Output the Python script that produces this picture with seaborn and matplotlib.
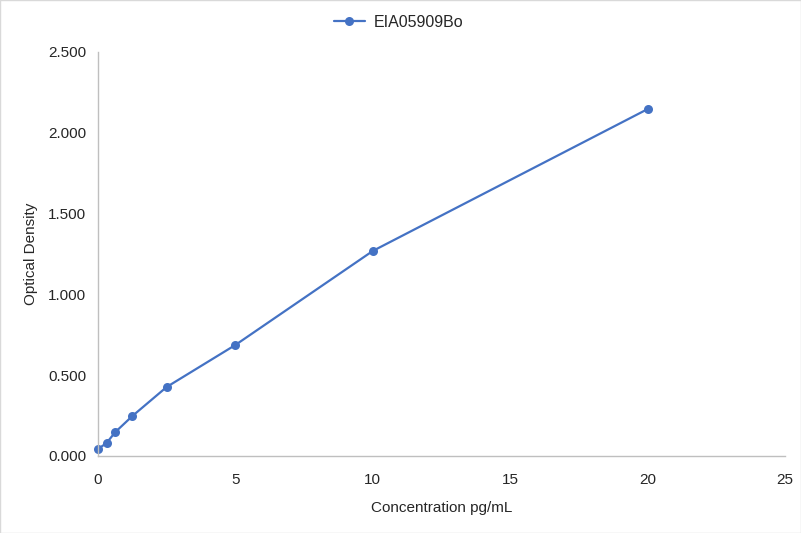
import matplotlib
matplotlib.use("Agg")
import matplotlib.pyplot as plt
import seaborn as sns
import pandas as pd
from matplotlib.ticker import FormatStrFormatter

# valeurs
concentration = [0, 0.3125, 0.625, 1.25, 2.5, 5, 10, 20]
densite = [0.043, 0.080, 0.147, 0.247, 0.427, 0.687, 1.269, 2.147]
serie = "EIA05909Bo"

df = pd.DataFrame({"x": concentration, "y": densite, "serie": serie})

sns.set_style("white")
plt.rcParams["font.family"] = ["Liberation Sans", "DejaVu Sans"]

fig = plt.figure(figsize=(8.01, 5.33), dpi=100)
ax = fig.add_axes([0.1223, 0.1445, 0.858, 0.758])

sns.lineplot(data=df, x="x", y="y", hue="serie", palette=["#4472C4"],
             marker="o", markersize=6.5, markeredgewidth=0, linewidth=1.6,
             clip_on=False, ax=ax)

ax.set_xlim(0, 25)
ax.set_ylim(0, 2.5)
ax.set_xticks([0, 5, 10, 15, 20, 25])
ax.set_yticks([0, 0.5, 1.0, 1.5, 2.0, 2.5])
ax.yaxis.set_major_formatter(FormatStrFormatter("%.3f"))
ax.tick_params(labelsize=11, colors="#262626", length=0)
ax.tick_params(axis="y", pad=8.5)
ax.tick_params(axis="x", pad=12)

for s in ["top", "right"]:
    ax.spines[s].set_visible(False)
for s in ["left", "bottom"]:
    ax.spines[s].set_color("#BFBFBF")
    ax.spines[s].set_linewidth(1)

ax.set_xlabel("Concentration pg/mL", fontsize=11, color="#262626", labelpad=10)
ax.set_ylabel("Optical Density", fontsize=11, color="#262626", labelpad=7)

leg = ax.legend(loc="lower center", bbox_to_anchor=(0.437, 1.02), frameon=False,
                fontsize=11.5, handlelength=2, handletextpad=0.5)
for t in leg.get_texts():
    t.set_color("#262626")

fig.patches.append(plt.Rectangle((0, 0), 1, 1, transform=fig.transFigure,
                                 fill=False, edgecolor="#D9D9D9", linewidth=1))

fig.savefig("out.png", dpi=100)
